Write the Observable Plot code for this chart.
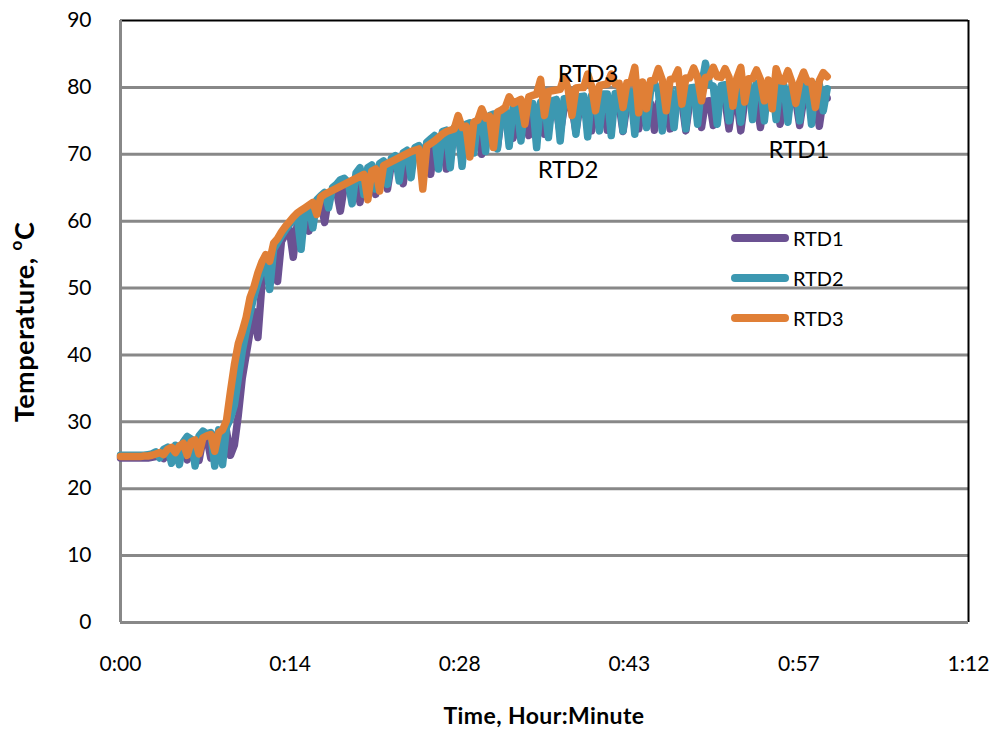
<!DOCTYPE html>
<html>
<head>
<meta charset="utf-8">
<script src="https://cdn.jsdelivr.net/npm/d3@7"></script>
<script src="https://cdn.jsdelivr.net/npm/@observablehq/plot@0.6"></script>
<style>
  html, body { margin: 0; padding: 0; background: #fff; }
  #chart { position: relative; width: 995px; height: 732px; font-family: Lato, "Open Sans", sans-serif; }
  .legend { position: absolute; left: 731px; top: 218px; font-size: 20px; color: #000; }
  .legend .item { display: flex; align-items: center; height: 40px; }
  .legend svg { display: block; margin-right: 4px; }
</style>
</head>
<body>
<div id="chart"></div>
<script>
// Logger interval between readings, in minutes (20 s)
const sampleMinutes = 1 / 3;

// Temperature readings (°C), one per logger interval, 0:00 to 1:00
const rtd1 = [
  24.6, 24.6, 24.6, 24.6, 24.6, 24.6, 24.6, 24.6, 24.7, 24.8, 25.0, 24.5, 25.5, 25.8, 24.4,
  26.0, 26.4, 24.3, 26.8, 27.1, 24.2, 27.4, 27.7, 24.6, 27.9, 28.2, 28.4, 28.6, 25.0, 26.5,
  31.0, 36.5, 40.0, 43.5, 46.5, 42.6, 50.5, 52.5, 54.0, 55.5, 51.0, 57.0, 58.0, 58.8, 54.6,
  59.5, 60.3, 61.0, 58.5, 61.8, 62.4, 63.0, 59.8, 63.6, 64.2, 64.6, 61.5, 65.2, 65.6, 66.0,
  66.3, 62.8, 66.8, 67.2, 67.5, 64.0, 67.9, 68.2, 64.8, 68.6, 68.9, 69.2, 65.6, 69.6, 69.9,
  70.2, 70.5, 70.8, 71.1, 67.0, 71.6, 72.0, 72.3, 67.8, 72.8, 73.1, 73.4, 69.0, 73.8, 74.0,
  74.2, 74.4, 70.0, 74.8, 75.0, 75.2, 71.0, 75.5, 75.6, 75.8, 72.4, 76.0, 76.1, 76.2, 72.8,
  76.3, 76.4, 76.5, 73.0, 76.6, 76.7, 76.8, 73.2, 76.9, 77.0, 77.0, 73.4, 77.1, 77.1, 77.2,
  73.5, 77.2, 77.3, 77.3, 73.6, 77.4, 77.4, 77.4, 73.4, 77.5, 77.5, 77.5, 73.8, 77.6, 77.6,
  77.6, 73.6, 77.7, 77.7, 77.7, 73.8, 77.8, 77.8, 77.8, 73.5, 77.9, 77.9, 77.9, 74.0, 77.9,
  78.0, 74.3, 78.0, 78.0, 78.0, 73.8, 78.0, 78.0, 73.5, 78.0, 78.0, 78.0, 78.0, 74.0, 78.0,
  78.0, 78.0, 78.0, 74.5, 78.0, 78.0, 78.0, 78.1, 74.3, 78.2, 78.2, 78.3, 78.3, 74.2, 78.3,
  78.4
];
const rtd2 = [
  25.0, 25.0, 25.0, 25.0, 25.0, 25.0, 25.0, 25.1, 25.2, 25.5, 24.6, 25.9, 26.2, 23.8, 26.5,
  23.6, 27.0, 27.8, 27.4, 23.4, 27.9, 28.6, 28.2, 28.4, 23.4, 28.8, 23.6, 29.2, 30.5, 32.5,
  36.5, 40.5, 43.5, 46.3, 48.8, 50.8, 52.6, 54.2, 49.8, 55.8, 56.8, 57.8, 58.7, 59.5, 60.2,
  60.8, 55.8, 61.8, 62.3, 59.0, 63.2, 63.8, 64.3, 62.0, 65.0, 65.5, 66.2, 66.4, 65.8, 62.6,
  67.2, 68.0, 64.0, 68.0, 68.4, 64.8, 68.6, 69.0, 65.5, 69.4, 69.8, 66.0, 70.2, 70.6, 66.5,
  71.0, 71.3, 66.8, 71.8, 72.3, 72.8, 67.8, 73.4, 73.6, 68.0, 74.0, 74.2, 68.2, 74.5, 74.7,
  70.2, 75.2, 75.4, 70.4, 75.8, 76.0, 70.8, 76.4, 76.6, 71.2, 77.0, 77.2, 72.0, 77.5, 77.6,
  77.6, 71.0, 77.8, 78.0, 72.5, 78.0, 78.2, 72.0, 78.3, 78.4, 78.5, 73.0, 78.6, 78.7, 72.6,
  78.8, 78.8, 73.5, 79.0, 79.0, 72.8, 79.1, 79.2, 73.5, 79.2, 79.3, 73.0, 79.4, 79.5, 74.0,
  79.5, 80.6, 79.5, 73.5, 79.6, 79.7, 74.0, 79.7, 79.8, 73.8, 79.9, 80.0, 74.5, 80.2, 83.6,
  80.4, 80.2, 74.5, 80.3, 80.4, 75.0, 80.4, 80.5, 74.8, 80.5, 80.6, 75.2, 80.6, 80.5, 75.0,
  80.5, 80.4, 75.2, 80.4, 80.3, 74.8, 80.2, 80.2, 75.0, 80.2, 80.3, 74.5, 80.4, 80.5, 76.5,
  79.8
];
const rtd3 = [
  24.8, 24.8, 24.8, 24.8, 24.8, 24.8, 24.9, 24.9, 25.0, 25.2, 25.4, 25.1, 25.9, 26.2, 25.4,
  26.4, 26.8, 25.0, 27.0, 27.3, 25.2, 27.6, 27.9, 28.1, 25.6, 28.4, 28.8, 30.2, 34.5, 38.5,
  41.7, 43.5, 45.6, 48.6, 50.2, 52.3, 53.9, 55.0, 54.0, 56.7, 57.4, 58.4, 59.2, 59.9, 60.6,
  61.2, 61.6, 62.0, 62.4, 62.8, 61.0, 63.6, 64.0, 64.3, 64.6, 64.9, 65.2, 65.5, 65.8, 66.1,
  66.4, 66.7, 67.0, 63.2, 67.5, 67.8, 64.5, 68.3, 68.6, 68.9, 69.2, 69.5, 69.8, 70.1, 70.4,
  70.6, 70.8, 64.8, 71.2, 71.6, 72.0, 72.5, 73.0, 73.4, 73.6, 73.8, 75.8, 74.0, 74.2, 69.6,
  74.8, 75.1, 76.8, 75.4, 75.7, 71.0, 76.3, 76.6, 77.0, 78.6, 77.6, 77.9, 78.2, 74.5, 78.6,
  78.8, 79.0, 81.2, 75.8, 79.4, 79.5, 79.6, 79.7, 81.6, 79.8, 75.8, 79.9, 80.0, 80.0, 82.0,
  80.2, 76.5, 80.3, 80.4, 80.5, 82.0, 80.5, 80.6, 77.0, 80.7, 80.7, 83.0, 76.2, 80.8, 76.8,
  81.0, 81.0, 82.8, 81.1, 76.5, 81.2, 81.3, 82.6, 77.5, 81.4, 81.4, 82.9, 81.5, 78.0, 81.5,
  81.6, 83.0, 81.6, 81.5, 82.8, 81.5, 77.2, 81.4, 83.0, 77.8, 81.3, 81.3, 82.6, 81.2, 78.0,
  81.1, 76.8, 82.8, 81.0, 80.9, 82.5, 80.8, 77.6, 80.8, 82.3, 80.8, 80.9, 77.0, 81.0, 82.2,
  81.6
];

const seriesNames = ["RTD1", "RTD2", "RTD3"];
const seriesColors = ["#6b5192", "#3c98b1", "#e07f36"];

// Axis ticks: x in minutes (0.01 day steps), y in °C
const xTicks = [0, 14.4, 28.8, 43.2, 57.6, 72];
const xTickLabels = ["0:00", "0:14", "0:28", "0:43", "0:57", "1:12"];
const yTicks = [0, 10, 20, 30, 40, 50, 60, 70, 80, 90];

// In-plot series labels (minute, °C)
const labelNames = ["RTD3", "RTD2", "RTD1"];
const labelMinutes = [39.7, 38.0, 57.6];
const labelTemps = [81.9, 67.6, 70.6];

const readings = [rtd1, rtd2, rtd3].flatMap((vals, s) =>
  vals.map((v, i) => ({series: seriesNames[s], t: i * sampleMinutes, v}))
);
const labels = labelNames.map((name, i) => ({name, t: labelMinutes[i], v: labelTemps[i]}));

const gridColor = "#888888";

const chart = Plot.plot({
  width: 995,
  height: 732,
  marginLeft: 120,
  marginRight: 27,
  marginTop: 20,
  marginBottom: 110,
  style: {fontFamily: "Lato, 'Open Sans', sans-serif", fontSize: "21px", color: "#000", background: "#fff"},
  x: {domain: [0, 72]},
  y: {domain: [0, 90]},
  color: {domain: seriesNames, range: seriesColors},
  marks: [
    Plot.ruleY(yTicks.filter(d => d > 0 && d < 90), {stroke: gridColor, strokeWidth: 3}),
    Plot.ruleY([90], {stroke: "#000", strokeWidth: 2}),
    Plot.ruleX([72], {stroke: "#000", strokeWidth: 2}),
    Plot.ruleX([0], {stroke: gridColor, strokeWidth: 3}),
    Plot.ruleY([0], {stroke: gridColor, strokeWidth: 3}),
    Plot.line(readings, {
      x: "t", y: "v", z: "series", stroke: "series",
      strokeWidth: 7.5, strokeLinejoin: "round", strokeLinecap: "round"
    }),
    Plot.text(labels, {x: "t", y: "v", text: "name", fontSize: 24, fill: "#000"}),
    Plot.axisX({ticks: xTicks, tickFormat: (d, i) => xTickLabels[i], tickSize: 0, tickPadding: 34, label: null, fontSize: 21}),
    Plot.axisY({ticks: yTicks, tickSize: 0, tickPadding: 29, label: null, fontSize: 21})
  ]
});

// Axis titles
const svg = d3.select(chart);
svg.append("text")
  .attr("x", 544).attr("y", 718)
  .attr("text-anchor", "middle").attr("dominant-baseline", "middle")
  .attr("font-weight", "bold").attr("font-size", 23)
  .attr("letter-spacing", 0.4)
  .attr("fill", "#000")
  .text("Time, Hour:Minute");

const yTitle = svg.append("text")
  .attr("transform", "translate(27,322) rotate(-90)")
  .attr("text-anchor", "middle").attr("dominant-baseline", "middle")
  .attr("font-weight", "bold").attr("font-size", 27)
  .attr("letter-spacing", 0.5)
  .attr("fill", "#000");
yTitle.append("tspan").text("Temperature, ");
yTitle.append("tspan").attr("font-size", 17).attr("dy", -9).text("o");
yTitle.append("tspan").attr("dy", 9).text("C");

const container = document.getElementById("chart");
container.appendChild(chart);

// Legend
const legend = d3.select(container).append("div").attr("class", "legend");
seriesNames.forEach((name, i) => {
  const item = legend.append("div").attr("class", "item");
  const sw = item.append("svg").attr("width", 58).attr("height", 10);
  sw.append("line")
    .attr("x1", 4).attr("x2", 54).attr("y1", 5).attr("y2", 5)
    .attr("stroke", seriesColors[i]).attr("stroke-width", 8).attr("stroke-linecap", "round");
  item.append("span").text(name);
});
</script>
</body>
</html>
